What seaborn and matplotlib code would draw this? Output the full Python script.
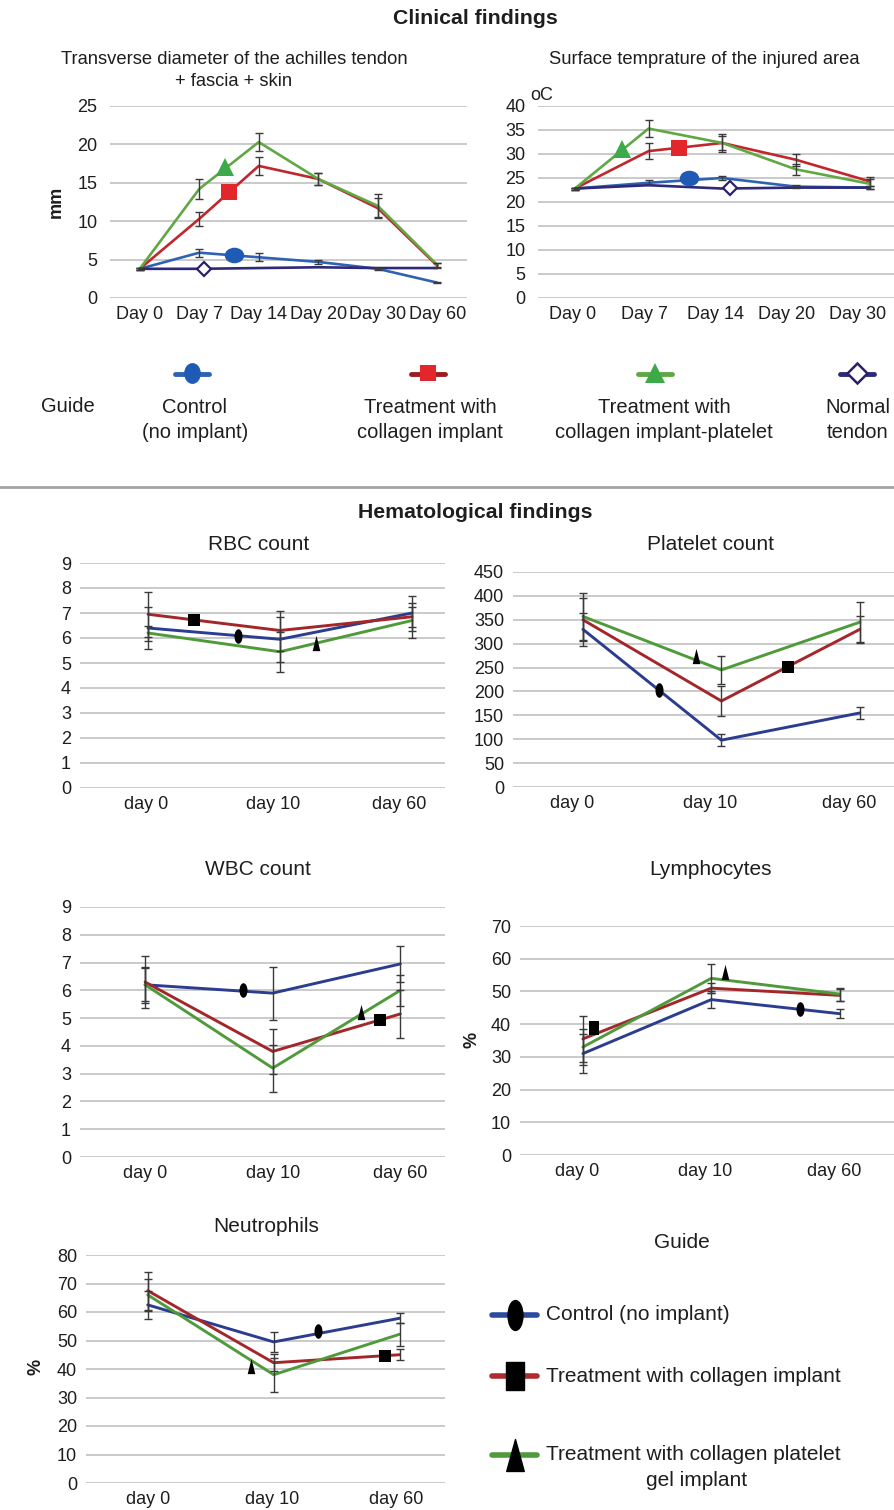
import numpy as np
import pandas as pd
import matplotlib
matplotlib.use("Agg")
import matplotlib.pyplot as plt
from matplotlib.path import Path
from matplotlib.transforms import offset_copy
import seaborn as sns

sns.set_theme(style="white")
plt.rcParams['font.family'] = ['Liberation Sans', 'DejaVu Sans']

W, H = 895, 1510

# ---------------- data ----------------
# Clinical: transverse diameter (mm)
diam_days = ["Day 0", "Day 7", "Day 14", "Day 20", "Day 30", "Day 60"]
diam_control = [3.8, 5.9, 5.3, 4.7, 3.8, 2.0]
diam_control_err = [0.1, 0.5, 0.5, 0.25, 0.1, 0.1]
diam_collagen = [3.8, 10.3, 17.2, 15.5, 11.7, 4.2]
diam_collagen_err = [0.1, 0.9, 1.2, 0.8, 1.3, 0.3]
diam_platelet = [3.8, 14.2, 20.3, 15.5, 12.0, 4.3]
diam_platelet_err = [0.1, 1.3, 1.2, 0.8, 1.5, 0.3]
diam_normal = [3.8, 3.8, 3.9, 4.0, 3.9, 3.9]

# Clinical: surface temperature (oC)
temp_days = ["Day 0", "Day 7", "Day 14", "Day 20", "Day 30"]
temp_control = [22.8, 24.0, 25.0, 23.2, 23.0]
temp_control_err = [0.2, 0.5, 0.5, 0.3, 0.3]
temp_collagen = [22.8, 30.6, 32.3, 28.8, 24.3]
temp_collagen_err = [0.2, 1.6, 1.8, 1.3, 1.0]
temp_platelet = [22.8, 35.3, 32.3, 26.8, 23.8]
temp_platelet_err = [0.2, 1.8, 1.5, 1.1, 1.0]
temp_normal = [22.8, 23.5, 22.8, 23.0, 23.0]

# Hematological
hem_days = ["day 0", "day 10", "day 60"]

rbc_control = [6.4, 5.95, 7.0]
rbc_control_err = [0.85, 0.9, 0.7]
rbc_collagen = [6.95, 6.3, 6.85]
rbc_collagen_err = [0.9, 0.8, 0.4]
rbc_platelet = [6.2, 5.45, 6.7]
rbc_platelet_err = [0.3, 0.8, 0.7]

plt_control = [330, 98, 155]
plt_control_err = [35, 12, 13]
plt_collagen = [350, 180, 330]
plt_collagen_err = [45, 32, 28]
plt_platelet = [357, 245, 345]
plt_platelet_err = [50, 30, 42]

wbc_control = [6.2, 5.9, 6.95]
wbc_control_err = [0.65, 0.95, 0.65]
wbc_collagen = [6.3, 3.8, 5.15]
wbc_collagen_err = [0.95, 0.8, 0.85]
wbc_platelet = [6.2, 3.2, 6.0]
wbc_platelet_err = [0.6, 0.85, 0.55]

lym_control = [31.0, 47.5, 43.2]
lym_control_err = [6.0, 2.5, 1.3]
lym_collagen = [35.5, 51.0, 48.8]
lym_collagen_err = [7.0, 1.5, 1.8]
lym_platelet = [33.0, 54.0, 49.2]
lym_platelet_err = [5.5, 4.5, 2.0]

neu_control = [62.5, 49.5, 57.8]
neu_control_err = [5.0, 3.5, 1.7]
neu_collagen = [67.5, 42.2, 45.0]
neu_collagen_err = [6.7, 3.0, 2.0]
neu_platelet = [66.0, 38.0, 52.2]
neu_platelet_err = [5.5, 6.0, 4.0]

# ---------------- styles ----------------
clin_colors = {"Control": "#2e62b3", "Collagen": "#c0272d",
               "Platelet": "#5fa844", "Normal": "#2e2a78"}
hem_colors = {"Control": "#2b3d8f", "Collagen": "#a3262a",
              "Platelet": "#4f9a3b"}

circ = Path.unit_circle()
wide_ellipse = Path(circ.vertices * [1.0, 0.8], circ.codes)
tall_ellipse = Path(circ.vertices * [0.8, 1.0], circ.codes)
narrow_ellipse = Path(circ.vertices * [0.55, 1.0], circ.codes)
slim_ellipse = Path(circ.vertices * [0.5, 1.0], circ.codes)
narrow_tri = Path([(0, 1), (-0.5, -1), (0.5, -1), (0, 1)],
                  [Path.MOVETO, Path.LINETO, Path.LINETO, Path.CLOSEPOLY])
slim_tri = Path([(0, 1), (-0.55, -1), (0.55, -1), (0, 1)],
                [Path.MOVETO, Path.LINETO, Path.LINETO, Path.CLOSEPOLY])
tall_rect = Path([(-0.65, -1), (0.65, -1), (0.65, 1), (-0.65, 1), (-0.65, -1)],
                 [Path.MOVETO, Path.LINETO, Path.LINETO, Path.LINETO, Path.CLOSEPOLY])

fig = plt.figure(figsize=(W / 100, H / 100), dpi=100)


def px_axes(left, top, right, bottom):
    return fig.add_axes([left / W, 1 - bottom / H, (right - left) / W, (bottom - top) / H])


def ftext(x, y, s, **kw):
    kw.setdefault("ha", "center")
    kw.setdefault("va", "center")
    kw.setdefault("color", "#1e1e1e")
    fig.text(x / W, 1 - y / H, s, **kw)


def draw_panel(ax, cats, series, errs, colors, ymax, ystep, xlim,
               tick_size, lw, ypad, xpad, tick_scale=1.0, tick_shift=0.0):
    rows = []
    for name, vals in series.items():
        for i, v in enumerate(vals):
            rows.append((name, i, v))
    df = pd.DataFrame(rows, columns=["group", "x", "value"])
    sns.lineplot(data=df, x="x", y="value", hue="group", palette=colors,
                 hue_order=list(series.keys()), estimator=None, sort=False,
                 linewidth=lw, legend=False, ax=ax, zorder=3)
    for name, e in errs.items():
        ax.errorbar(np.arange(len(cats)), series[name], yerr=e, fmt="none",
                    ecolor="#3a3a3a", elinewidth=1.0, capsize=2.8,
                    capthick=1.0, zorder=4)
    ax.set_xlim(*xlim)
    ax.set_ylim(0, ymax)
    ax.set_yticks(np.arange(0, ymax + ystep / 2, ystep))
    ax.set_xticks(np.arange(len(cats)) * tick_scale + tick_shift)
    ax.set_xticklabels(cats)
    ax.yaxis.grid(True, color="#cacaca", lw=1.4, zorder=0)
    ax.xaxis.grid(False)
    ax.set_axisbelow(True)
    for sp in ax.spines.values():
        sp.set_visible(False)
    ax.tick_params(axis="y", length=0, labelsize=tick_size, colors="#1e1e1e", pad=ypad)
    ax.tick_params(axis="x", length=0, labelsize=tick_size, colors="#1e1e1e", pad=xpad)
    ax.set_xlabel("")
    ax.set_ylabel("")
    ax.patch.set_alpha(0)


def tag(ax, vals, frac, marker, size, face, edge=None, mew=0, dy=0):
    """Group symbol placed on the series line at a fractional category position."""
    y = np.interp(frac, np.arange(len(vals)), vals)
    tr = offset_copy(ax.transData, fig=fig, x=0, y=dy, units="points")
    ax.plot([frac], [y], marker=marker, ms=size, mfc=face,
            mec=edge if edge else face, mew=mew, ls="none",
            transform=tr, zorder=6, clip_on=False)


# ---------------- clinical panels ----------------
ftext(475, 18, "Clinical findings", fontsize=15.3, fontweight="bold")

ax1 = px_axes(110, 106, 467, 298)
draw_panel(ax1, diam_days,
           {"Control": diam_control, "Collagen": diam_collagen,
            "Platelet": diam_platelet, "Normal": diam_normal},
           {"Control": diam_control_err, "Collagen": diam_collagen_err,
            "Platelet": diam_platelet_err},
           clin_colors, 25, 5, (-0.5, 5.5), 13, 1.9, 9, 6)
ftext(234, 60, "Transverse diameter of the achilles tendon", fontsize=13.2)
ftext(234, 82, "+ fascia + skin", fontsize=13.2)
ftext(56, 202, "mm", fontsize=13, fontweight="bold", rotation=90)
tag(ax1, diam_control, 1.58, wide_ellipse, 14, "#1f5bb5")
tag(ax1, diam_collagen, 1.5, "s", 11, "#e3262b")
tag(ax1, diam_platelet, 1.43, "^", 13, "#3daa4a", dy=1)
tag(ax1, diam_normal, 1.08, "D", 7.5, "white", edge="#2e1f6e", mew=1.6)

ax2 = px_axes(538, 106, 906.5, 298)
draw_panel(ax2, temp_days,
           {"Control": temp_control, "Collagen": temp_collagen,
            "Platelet": temp_platelet, "Normal": temp_normal},
           {"Control": temp_control_err, "Collagen": temp_collagen_err,
            "Platelet": temp_platelet_err},
           clin_colors, 40, 5, (-0.5, 4.5), 13, 1.9, 9, 6,
           tick_scale=0.967, tick_shift=-0.027)
ftext(704, 60, "Surface temprature of the injured area", fontsize=13.2)
ftext(530, 96, "oC", fontsize=13, ha="left")
tag(ax2, temp_control, 1.55, wide_ellipse, 14, "#1f5bb5", dy=1.5)
tag(ax2, temp_collagen, 1.41, "s", 11, "#e3262b")
tag(ax2, temp_platelet, 0.64, "^", 13, "#3daa4a", dy=1)
tag(ax2, temp_normal, 2.1, "D", 7.5, "white", edge="#2e1f6e", mew=1.6)

# overlay for guides and separator
ov = fig.add_axes([0, 0, 1, 1])
ov.set_xlim(0, W)
ov.set_ylim(H, 0)
ov.axis("off")
ov.patch.set_alpha(0)

clin_legend = [
    (192, "#2e62b3", tall_ellipse, 15, "#1f5bb5", "#1f5bb5", 0, "Control\n(no implant)", 195),
    (428, "#9c1c22", "s", 12, "#e3262b", "#e3262b", 0, "Treatment with\ncollagen implant", 430),
    (655, "#5fa844", "^", 15, "#3daa4a", "#3daa4a", 0, "Treatment with\ncollagen implant-platelet", 664),
    (857, "#2e2a78", "D", 10, "white", "#2e1f6e", 1.8, "Normal\ntendon", 858),
]
ftext(68, 407, "Guide", fontsize=14.5)
for gx, lc, mk, ms, fc, ec, mw, label, tx in clin_legend:
    ov.plot([gx - 17, gx + 17], [374, 374], color=lc, lw=3.5, solid_capstyle="round")
    ov.plot([gx], [373], marker=mk, ms=ms, mfc=fc, mec=ec, mew=mw, ls="none")
    ftext(tx, 420, label, fontsize=14.5, linespacing=1.35)

ov.plot([0, W], [487, 487], color="#a3a3a3", lw=2)

# ---------------- hematological panels ----------------
ftext(475, 513, "Hematological findings", fontsize=15.3, fontweight="bold")


def hem_series(c, r, p):
    return {"Control": c, "Collagen": r, "Platelet": p}


ax3 = px_axes(80, 563, 445, 788)
draw_panel(ax3, hem_days, hem_series(rbc_control, rbc_collagen, rbc_platelet),
           hem_series(rbc_control_err, rbc_collagen_err, rbc_platelet_err),
           hem_colors, 9, 1, (-0.515, 2.25), 13, 2.1, 6.5, 6,
           tick_scale=0.96, tick_shift=-0.015)
ftext(259, 545, "RBC count", fontsize=15)
tag(ax3, rbc_collagen, 0.35, "s", 8.5, "black")
tag(ax3, rbc_control, 0.68, narrow_ellipse, 10.5, "black")
tag(ax3, rbc_platelet, 1.27, narrow_tri, 11, "black")

ax4 = px_axes(513, 572, 900, 787)
draw_panel(ax4, hem_days, hem_series(plt_control, plt_collagen, plt_platelet),
           hem_series(plt_control_err, plt_collagen_err, plt_platelet_err),
           hem_colors, 450, 50, (-0.505, 2.29), 13, 2.1, 6.5, 6,
           tick_shift=-0.08)
ftext(711, 545, "Platelet count", fontsize=15)
tag(ax4, plt_platelet, 0.82, narrow_tri, 11, "black", dy=3)
tag(ax4, plt_control, 0.55, narrow_ellipse, 10.5, "black")
tag(ax4, plt_collagen, 1.48, "s", 8.5, "black")

ax5 = px_axes(80, 907, 445, 1157)
draw_panel(ax5, hem_days, hem_series(wbc_control, wbc_collagen, wbc_platelet),
           hem_series(wbc_control_err, wbc_collagen_err, wbc_platelet_err),
           hem_colors, 9, 1, (-0.51, 2.35), 13, 2.1, 6.5, 6)
ftext(258, 870, "WBC count", fontsize=15)
tag(ax5, wbc_control, 0.77, narrow_ellipse, 10.5, "black", dy=1)
tag(ax5, wbc_platelet, 1.69, narrow_tri, 11, "black", dy=2)
tag(ax5, wbc_collagen, 1.84, "s", 8.5, "black")

ax6 = px_axes(520, 926, 900, 1155)
draw_panel(ax6, hem_days, hem_series(lym_control, lym_collagen, lym_platelet),
           hem_series(lym_control_err, lym_collagen_err, lym_platelet_err),
           hem_colors, 70, 10, (-0.49, 2.47), 13, 2.1, 6.5, 6,
           tick_shift=-0.045)
ftext(711, 870, "Lymphocytes", fontsize=15)
ftext(472, 1040, "%", fontsize=13, fontweight="bold", rotation=90)
tag(ax6, lym_collagen, 0.085, tall_rect, 10, "black", dy=5)
tag(ax6, lym_platelet, 1.11, narrow_tri, 11, "black", dy=6)
tag(ax6, lym_control, 1.69, narrow_ellipse, 10.5, "black")

ax7 = px_axes(86, 1255, 445, 1483)
draw_panel(ax7, hem_days, hem_series(neu_control, neu_collagen, neu_platelet),
           hem_series(neu_control_err, neu_collagen_err, neu_platelet_err),
           hem_colors, 80, 10, (-0.49, 2.36), 13, 2.1, 6.5, 6,
           tick_scale=0.985)
ftext(266, 1226, "Neutrophils", fontsize=15)
ftext(36, 1367, "%", fontsize=13, fontweight="bold", rotation=90)
tag(ax7, neu_platelet, 0.82, narrow_tri, 11, "black", dy=-4)
tag(ax7, neu_control, 1.35, narrow_ellipse, 10.5, "black", dy=2)
tag(ax7, neu_collagen, 1.88, "s", 8.5, "black")

# hematological guide
ftext(682, 1242, "Guide", fontsize=15)
hem_legend = [
    (1315, "#2b4aa0", slim_ellipse, 21.5, "Control (no implant)"),
    (1376, "#b02a30", tall_rect, 19.5, "Treatment with collagen implant"),
    (1455, "#4f9a3b", slim_tri, 23, "Treatment with collagen platelet"),
]
for gy, lc, mk, ms, label in hem_legend:
    ov.plot([492, 537], [gy, gy], color=lc, lw=4, solid_capstyle="round")
    ov.plot([515], [gy], marker=mk, ms=ms, mfc="black", mec="black", ls="none")
    ftext(546, gy, label, fontsize=15, ha="left")
ftext(697, 1481, "gel implant", fontsize=15)

fig.savefig("out.png", dpi=100)
